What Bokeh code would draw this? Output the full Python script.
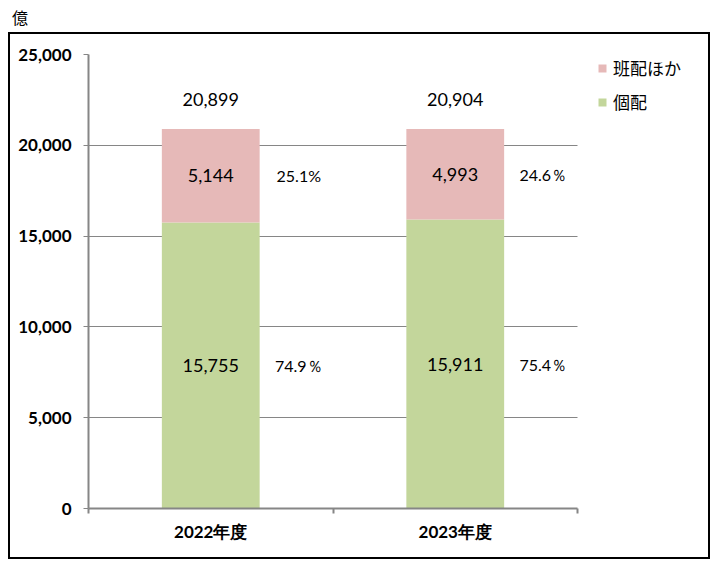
from bokeh.plotting import figure
from bokeh.layouts import column
from bokeh.models import (Range1d, FixedTicker, Legend, Div,
                          LegendItem, ColumnDataSource, NumeralTickFormatter)
from bokeh.core.properties import value
from bokeh.embed import file_html
from bokeh.resources import INLINE

# ---- data ----
years = ["2022年度", "2023年度"]
kohai = [15755, 15911]          # 個配
hanhai = [5144, 4993]           # 班配ほか
kohai_pct = ["74.9％", "75.4％"]
hanhai_pct = ["25.1%", "24.6％"]
series_names = ["個配", "班配ほか"]
y_ticks = [0, 5000, 10000, 15000, 20000, 25000]
unit_label = "億"

# ---- derived ----
n = len(years)
xs = [i + 0.5 for i in range(n)]
totals = [k + h for k, h in zip(kohai, hanhai)]
src = ColumnDataSource(dict(
    x=xs,
    xp=[x + 0.36 for x in xs],
    kohai=kohai,
    hanhai=hanhai,
    mid_k=[k / 2 for k in kohai],
    mid_h=[k + h / 2 for k, h in zip(kohai, hanhai)],
    total=totals,
    k_txt=[f"{v:,}" for v in kohai],
    h_txt=[f"{v:,}" for v in hanhai],
    t_txt=[f"{v:,}" for v in totals],
    k_pct=kohai_pct,
    h_pct=hanhai_pct,
))

GREEN = "#C3D69B"
PINK = "#E6B9B8"
GRAY = "#868686"
NUMFONT = value("Lato")
CJK = "Noto Sans CJK JP"

PLOT_W = 489      # width of the axis area in px
FRAME_W = 620     # frame incl. legend area
FRAME_H = 454
LEFT, TOP, BOTTOM = 78, 20, 49

p = figure(width=LEFT + FRAME_W, height=TOP + FRAME_H + BOTTOM, output_backend="svg",
           toolbar_location=None,
           x_range=Range1d(0, n * FRAME_W / PLOT_W), y_range=Range1d(0, y_ticks[-1]),
           min_border_left=LEFT, min_border_right=0, min_border_top=TOP,
           min_border_bottom=BOTTOM, outline_line_color=None,
           background_fill_color="white", border_fill_color="white",
           styles={"outline": "2px solid black", "outline-offset": "0px"},
           margin=(0, 4, 4, 10))

renderers = p.vbar_stack(["kohai", "hanhai"], x="x", width=0.4, source=src,
                         color=[GREEN, PINK], line_color=None)

# axes
p.yaxis.ticker = FixedTicker(ticks=y_ticks)
p.yaxis.formatter = NumeralTickFormatter(format="0,0")
p.yaxis.major_label_text_font = "Lato"
p.yaxis.major_label_text_font_style = "bold"
p.yaxis.major_label_text_font_size = "17px"
p.yaxis.major_label_text_color = "black"
p.yaxis.major_label_standoff = 12
p.yaxis.axis_line_color = GRAY
p.yaxis.axis_line_width = 2
p.yaxis.major_tick_line_color = GRAY
p.yaxis.major_tick_out = 5
p.yaxis.major_tick_in = 0
p.yaxis.minor_tick_line_color = None

p.xaxis.bounds = (0, n)
p.xaxis.ticker = FixedTicker(ticks=xs, minor_ticks=list(range(n + 1)))
p.xaxis.major_label_overrides = {x: y for x, y in zip(xs, years)}
p.xaxis.major_label_text_font = "Lato"
p.xaxis.major_label_text_font_style = "bold"
p.xaxis.major_label_text_font_size = "17px"
p.xaxis.major_label_text_color = "black"
p.xaxis.major_label_standoff = 6
p.xaxis.axis_line_color = GRAY
p.xaxis.axis_line_width = 2
p.xaxis.major_tick_line_color = None
p.xaxis.minor_tick_line_color = GRAY
p.xaxis.minor_tick_out = 5
p.xaxis.minor_tick_in = 0
p.xaxis.minor_tick_line_width = 2

p.xgrid.grid_line_color = None
p.ygrid.ticker = FixedTicker(ticks=y_ticks)
p.ygrid.grid_line_color = GRAY
if "cross_bounds" in p.ygrid.properties():
    p.ygrid.cross_bounds = (0, n)
else:
    p.ygrid.grid_line_color = None
    p.segment(x0=[0] * len(y_ticks), x1=[n] * len(y_ticks), y0=y_ticks, y1=y_ticks,
              line_color=GRAY, line_width=1, level="underlay")

# data labels
common = dict(text_align="center", text_baseline="middle", text_color="black")
p.text(x="x", y="mid_k", text="k_txt", source=src, text_font=NUMFONT,
       text_font_size="18px", **common)
p.text(x="x", y="mid_h", text="h_txt", source=src, text_font=NUMFONT,
       text_font_size="18px", **common)
p.text(x="x", y="total", text="t_txt", source=src, text_font=NUMFONT,
       text_font_size="18px", y_offset=-29, **common)
p.text(x="xp", y="mid_k", text="k_pct", source=src, text_font=NUMFONT,
       text_font_size="16px", **common)
p.text(x="xp", y="mid_h", text="h_pct", source=src, text_font=NUMFONT,
       text_font_size="16px", **common)

# legend (inside the frame, right of the axis area)
legend = Legend(items=[LegendItem(label=series_names[1], renderers=[renderers[1]]),
                       LegendItem(label=series_names[0], renderers=[renderers[0]])],
                location=(PLOT_W + 20, 394), border_line_color=None,
                background_fill_alpha=0, glyph_width=10, glyph_height=10,
                label_text_font=CJK, label_text_font_size="17px",
                label_text_color="black",
                label_height=22, spacing=9, padding=0, margin=0,
                label_standoff=6)
p.add_layout(legend, "center")

unit = Div(text=unit_label, width=30, height=28, margin=(6, 0, 0, 12),
           styles={"font-family": CJK, "font-size": "16px", "color": "black"})

layout = column(unit, p, spacing=0)
open("out.html", "w").write(file_html(layout, INLINE))
